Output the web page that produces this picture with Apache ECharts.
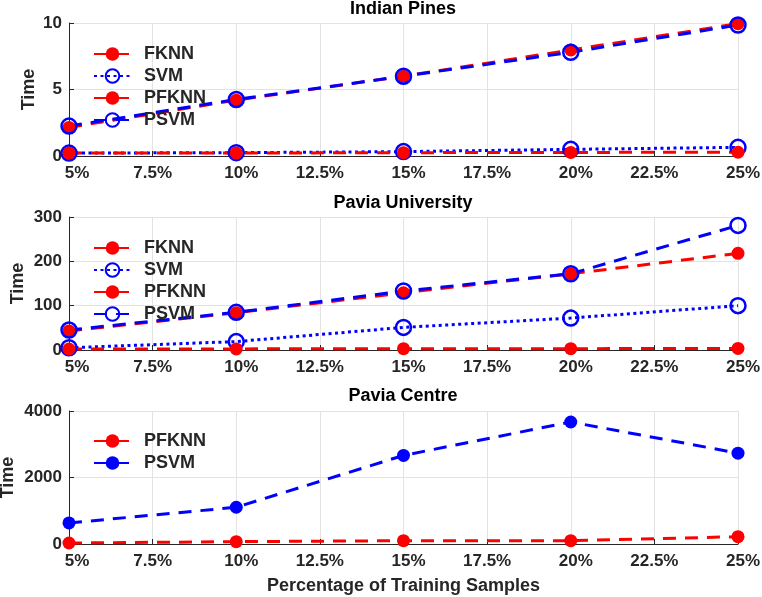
<!DOCTYPE html>
<html><head><meta charset="utf-8">
<script src="https://cdn.jsdelivr.net/npm/echarts@6/dist/echarts.min.js"></script>
<style>html,body{margin:0;padding:0;background:#fff}#c{width:762px;height:597px}</style>
</head><body><div id="c"></div>
<script>
// ---- data ----
const xPercent = [5, 10, 15, 20, 25];
const titles = ['Indian Pines', 'Pavia University', 'Pavia Centre'];
// Indian Pines
const ipFKNN  = [2.15, 4.2, 6.0, 7.97, 9.95];
const ipSVM   = [0.22, 0.25, 0.33, 0.5, 0.65];
const ipPFKNN = [0.22, 0.22, 0.25, 0.27, 0.28];
const ipPSVM  = [2.25, 4.25, 6.0, 7.8, 9.85];
// Pavia University
const puFKNN  = [43, 84, 129, 172, 218];
const puSVM   = [5, 19, 51, 72, 100];
const puPFKNN = [2, 2.5, 3, 3, 3.5];
const puPSVM  = [45, 85, 133, 172, 281];
// Pavia Centre
const pcPFKNN = [30, 70, 100, 100, 220];
const pcPSVM  = [633, 1105, 2664, 3670, 2733];
// axis ranges
const yMax = [10, 300, 4000];
const yInterval = [5, 100, 2000];

// ---- styling ----
const RED = '#ff0000', BLUE = '#0000ff', TXT = '#262626', GRIDC = '#e3e3e3';
const FONT = '"Liberation Sans", Arial, sans-serif';
const DASH = [13, 9], DOT = [3, 3.5];
const gridTops = [23, 217, 411];
const plotH = 133;
const pairs = arr => arr.map((v, i) => [xPercent[i], v]);

function redDash(name, idx, data) {
  return { name, type: 'line', xAxisIndex: idx, yAxisIndex: idx, data: pairs(data),
    symbol: 'circle', symbolSize: 13,
    lineStyle: { color: RED, width: 3, type: DASH },
    itemStyle: { color: RED, borderWidth: 0 }, emphasis: { disabled: true }, animation: false };
}
function blueOpen(name, idx, data, dotted) {
  return { name, type: 'line', xAxisIndex: idx, yAxisIndex: idx, data: pairs(data),
    symbol: 'circle', symbolSize: 15,
    lineStyle: { color: BLUE, width: 3, type: dotted ? DOT : DASH },
    itemStyle: { color: 'rgba(0,0,0,0)', borderColor: BLUE, borderWidth: 2.5 },
    emphasis: { disabled: true }, animation: false };
}
function blueFilled(name, idx, data) {
  return { name, type: 'line', xAxisIndex: idx, yAxisIndex: idx, data: pairs(data),
    symbol: 'circle', symbolSize: 13,
    lineStyle: { color: BLUE, width: 3, type: DASH },
    itemStyle: { color: BLUE, borderWidth: 0 }, emphasis: { disabled: true }, animation: false };
}

const labelStyle = { color: TXT, fontFamily: FONT, fontWeight: 'bold', fontSize: 17 };
const grids = gridTops.map(t => ({ left: 69, right: 24, top: t, height: plotH,
  containLabel: false, outerBoundsMode: 'none' }));
const xAxes = gridTops.map((t, i) => ({
  type: 'value', gridIndex: i, min: 5, max: 25, interval: 2.5,
  axisLine: { show: true, onZero: false, lineStyle: { color: TXT, width: 1 } },
  axisTick: { show: true, inside: true, length: 5, lineStyle: { color: TXT } },
  axisLabel: { margin: 9, color: TXT, fontFamily: FONT, fontWeight: 'bold', fontSize: 17,
    formatter: v => (v === 5 ? '{f|' : Number.isInteger(v) ? '{n|' : '{d|') + v + '%}',
    rich: {
      f: Object.assign({ padding: [0, 0, 0, 16] }, labelStyle),
      n: Object.assign({ padding: [0, 0, 0, 10] }, labelStyle),
      d: Object.assign({}, labelStyle)
    } },
  splitLine: { show: true, lineStyle: { color: GRIDC, width: 1 } },
  name: i === 2 ? 'Percentage of Training Samples' : '',
  nameLocation: 'middle', nameGap: 33, nameMoveOverlap: false,
  nameTextStyle: { color: TXT, fontFamily: FONT, fontWeight: 'bold', fontSize: 18 }
}));
const nameGaps = [31, 42, 52];
const yAxes = gridTops.map((t, i) => ({
  type: 'value', gridIndex: i, min: 0, max: yMax[i], interval: yInterval[i],
  axisLine: { show: true, lineStyle: { color: TXT, width: 1 } },
  axisTick: { show: true, inside: true, length: 5, lineStyle: { color: TXT } },
  axisLabel: Object.assign({ margin: 7, formatter: v => String(v) }, labelStyle),
  splitLine: { show: true, lineStyle: { color: GRIDC, width: 1 } },
  name: 'Time', nameLocation: 'middle', nameRotate: 90, nameGap: nameGaps[i], nameMoveOverlap: false,
  nameTextStyle: { color: TXT, fontFamily: FONT, fontWeight: 'bold', fontSize: 18 }
}));

const titleTops = [0, 194, 387];
const legendTops = [45, 239, 432];
const legendBase = {
  orient: 'vertical', left: 93, padding: 0, itemGap: 4, itemWidth: 37, itemHeight: 17,
  selectedMode: false,
  textStyle: { color: TXT, fontFamily: FONT, fontWeight: 'bold', fontSize: 18, padding: [0, 0, 0, 8] }
};

const option = {
  animation: false,
  backgroundColor: '#fff',
  title: titles.map((t, i) => ({ text: t, left: 403, top: titleTops[i], textAlign: 'center', padding: 0,
    textStyle: { color: '#000', fontFamily: FONT, fontWeight: 'bold', fontSize: 18 } })),
  grid: grids,
  xAxis: xAxes,
  yAxis: yAxes,
  legend: [
    Object.assign({}, legendBase, { top: legendTops[0], data: ['FKNN', 'SVM', 'PFKNN', 'PSVM'] }),
    Object.assign({}, legendBase, { top: legendTops[1], data: ['FKNN', 'SVM', 'PFKNN', 'PSVM'] }),
    Object.assign({}, legendBase, { top: legendTops[2], data: [
      { name: 'PFKNN' },
      { name: 'PSVM', itemStyle: { color: BLUE, borderWidth: 0 } }
    ] })
  ],
  series: [
    redDash('FKNN', 0, ipFKNN), blueOpen('SVM', 0, ipSVM, true), redDash('PFKNN', 0, ipPFKNN), blueOpen('PSVM', 0, ipPSVM, false),
    redDash('FKNN', 1, puFKNN), blueOpen('SVM', 1, puSVM, true), redDash('PFKNN', 1, puPFKNN), blueOpen('PSVM', 1, puPSVM, false),
    redDash('PFKNN', 2, pcPFKNN), blueFilled('PSVM', 2, pcPSVM)
  ]
};
const chart = echarts.init(document.getElementById('c'), null, { renderer: 'canvas' });
chart.setOption(option);
</script></body></html>
